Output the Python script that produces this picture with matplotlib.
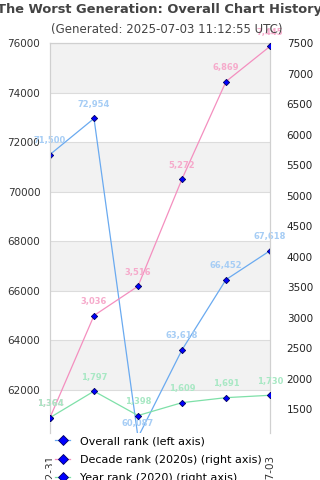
import matplotlib
matplotlib.use("Agg")
import matplotlib.pyplot as plt
from matplotlib.lines import Line2D

# data
dates = ["2020-12-31", "2021-12-31", "2022-12-31", "2023-12-31", "2024-12-31", "2025-07-03"]
overall_rank = [71500, 72954, 60087, 63618, 66452, 67618]
decade_rank = [1364, 3036, 3516, 5272, 6869, 7445]
year_rank = [1364, 1797, 1398, 1609, 1691, 1730]

left_ticks = [62000, 64000, 66000, 68000, 70000, 72000, 74000, 76000]
right_ticks = [1500, 2000, 2500, 3000, 3500, 4000, 4500, 5000, 5500, 6000, 6500, 7000, 7500]

c_overall, c_decade, c_year = "#6aaaf0", "#f48fbf", "#7ee0a8"
l_overall, l_decade, l_year = "#a6cdf5", "#f6aacb", "#a8e8c4"

fig = plt.figure(figsize=(3.2, 4.8), dpi=100)
ax = fig.add_axes([50 / 320, 1 - 433 / 480, 220 / 320, 390 / 480])
ax2 = ax.twinx()

x = list(range(len(dates)))

# alternating bands + grid lines on the left axis
for i in range(len(left_ticks) - 1):
    lo, hi = left_ticks[i], left_ticks[i + 1]
    if i % 2 == 0:
        ax.axhspan(lo, hi, color="#f2f2f2", zorder=0, lw=0)
for t in left_ticks:
    ax.axhline(t, color="#dcdcdc", lw=0.8, zorder=0.5)

mk = dict(marker="D", markersize=3.2, markerfacecolor="#0000ff",
          markeredgecolor="#000060", markeredgewidth=0.6)

ax.plot(x, overall_rank, color=c_overall, lw=0.9, zorder=3, **mk)
ax2.plot(x, decade_rank, color=c_decade, lw=0.9, zorder=3, **mk)
ax2.plot(x, year_rank, color=c_year, lw=0.9, zorder=3, **mk)

lab = dict(textcoords="offset points", ha="center", va="center",
           fontsize=6, fontweight="bold", annotation_clip=False)
for xi, v in zip(x, overall_rank):
    ax.annotate(f"{v:,}", (xi, v), xytext=(0, 10), color=l_overall, **lab)
for xi, v in zip(x, decade_rank):
    ax2.annotate(f"{v:,}", (xi, v), xytext=(0, 10), color=l_decade, **lab)
for xi, v in zip(x, year_rank):
    ax2.annotate(f"{v:,}", (xi, v), xytext=(0, 10), color=l_year, **lab)

ax.set_xlim(0, len(dates) - 1)
ax.set_ylim(60263, 76000)
ax2.set_ylim(1112, 7500)
ax.set_yticks(left_ticks)
ax2.set_yticks(right_ticks)
ax.set_xticks(x)
ax.set_xticklabels(dates, rotation=90)

ax.tick_params(axis="y", length=0, pad=7, labelsize=7.5, labelcolor="#333333")
ax2.tick_params(axis="y", length=0, pad=12, labelsize=7.5, labelcolor="#222222")
ax.tick_params(axis="x", length=0, pad=16, labelsize=7.5, labelcolor="#333333")

for a in (ax, ax2):
    a.spines["bottom"].set_visible(False)
    for s in ("left", "right", "top"):
        a.spines[s].set_color("#d0d0d0")
        a.spines[s].set_linewidth(0.8)
ax2.patch.set_visible(False)

handles = [
    Line2D([0], [0], color=c_overall, lw=0.9, **mk),
    Line2D([0], [0], color=c_decade, lw=0.9, **mk),
    Line2D([0], [0], color=c_year, lw=0.9, **mk),
]
names = ["Overall rank (left axis)", "Decade rank (2020s) (right axis)",
         "Year rank (2020) (right axis)"]
fig.legend(handles, names, loc="upper left", bbox_to_anchor=(52 / 320, 1 - 433 / 480),
           fontsize=8, frameon=True, facecolor="white", edgecolor="none", framealpha=1,
           markerscale=1.5, handlelength=1.3, handletextpad=0.9, labelspacing=0.75,
           borderpad=0.3, borderaxespad=0)

fig.text(0.5, 1 - 9 / 480, "The Worst Generation: Overall Chart History",
         ha="center", va="center", fontsize=9.4, fontweight="bold", color="#444444")
fig.text(0.52, 1 - 30 / 480, "(Generated: 2025-07-03 11:12:55 UTC)",
         ha="center", va="center", fontsize=8.5, color="#444444")

fig.savefig("out.png", dpi=100)
